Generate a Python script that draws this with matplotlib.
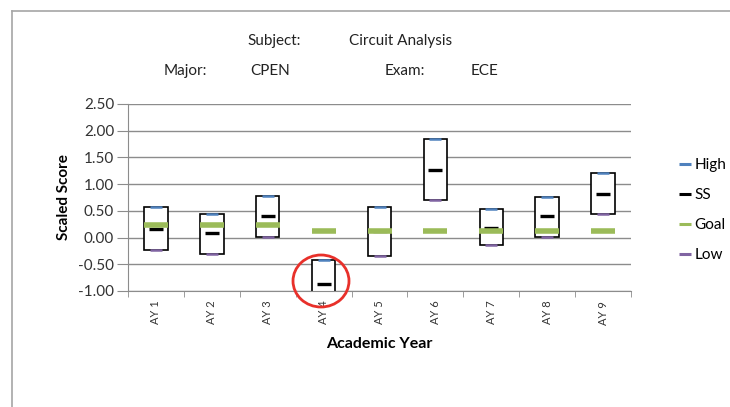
import matplotlib
matplotlib.use("Agg")
import matplotlib.pyplot as plt
from matplotlib.lines import Line2D
from matplotlib.patches import Ellipse
import numpy as np

plt.rcParams['font.family'] = ['Lato', 'DejaVu Sans']

categories = ["AY 1", "AY 2", "AY 3", "AY 4", "AY 5", "AY 6", "AY 7", "AY 8", "AY 9"]
high = [0.58, 0.45, 0.78, -0.42, 0.57, 1.84, 0.53, 0.76, 1.21]
low = [-0.23, -0.31, 0.02, -1.10, -0.34, 0.70, -0.14, 0.02, 0.45]
ss = [0.165, 0.085, 0.40, -0.86, 0.12, 1.26, 0.185, 0.40, 0.82]
goal = [0.235, 0.235, 0.235, 0.12, 0.12, 0.12, 0.12, 0.12, 0.12]
yticks = [-1.0, -0.5, 0.0, 0.5, 1.0, 1.5, 2.0, 2.5]

W, H = 730, 407
fig = plt.figure(figsize=(W / 100, H / 100), dpi=100)
ax = fig.add_axes([128 / W, 1 - 291 / H, (631 - 128) / W, (291 - 104) / H])

x = np.arange(len(categories))
grid_c = '#8c8c8c'
for yv in yticks:
    ax.axhline(yv, color=grid_c, lw=1.0, zorder=1)

ax.bar(x, np.array(high) - np.array(low), bottom=low, width=0.42,
       facecolor='white', edgecolor='black', linewidth=1.2, zorder=2)

ax.plot(x, high, linestyle='none', marker='_', markersize=8.5, mew=1.8, color='#4F81BD', zorder=4)
ax.plot(x, low, linestyle='none', marker='_', markersize=8.5, mew=1.8, color='#8064A2', zorder=4)
ax.plot(x, ss, linestyle='none', marker='_', markersize=9.5, mew=2.4, color='black', zorder=5)
ax.plot(x, goal, linestyle='none', marker='_', markersize=17.5, mew=4, color='#9BBB59', zorder=6)

ax.set_xlim(-0.5, len(categories) - 0.5)
ax.set_ylim(-1.0, 2.5)
ax.set_yticks(yticks)
ax.set_yticklabels([f"{v:.2f}" for v in yticks], fontsize=11, color='#333333')
ax.set_xticks(x)
ax.set_xticklabels(categories, rotation=90, fontsize=8, color='#333333')
ax.set_xticks(np.arange(-0.5, len(categories), 1.0), minor=True)
ax.tick_params(axis='x', which='major', length=0, pad=7)
ax.tick_params(axis='x', which='minor', length=4, color=grid_c)
ax.tick_params(axis='y', length=8, color=grid_c, pad=2)
for s in ['top', 'right']:
    ax.spines[s].set_visible(False)
ax.spines['left'].set_color(grid_c)
ax.spines['bottom'].set_color(grid_c)

ax.set_ylabel("Scaled Score", fontsize=11, fontweight='bold', labelpad=5)
ax.set_xlabel("Academic Year", fontsize=11.5, fontweight='bold', labelpad=9)

# Header texts
def ftxt(px, py, s, **kw):
    fig.text(px / W, 1 - py / H, s, fontsize=11, va='center', ha='left', color='#222222', **kw)

ftxt(247, 41, "Subject:")
ftxt(349, 41, "Circuit Analysis")
ftxt(164, 71, "Major:")
ftxt(250, 71, "CPEN")
ftxt(385, 71, "Exam:")
ftxt(471, 71, "ECE")

# Legend
handles = [
    Line2D([], [], linestyle='none', marker='_', markersize=8, mew=2.2, color='#4F81BD'),
    Line2D([], [], linestyle='none', marker='_', markersize=8, mew=2.2, color='black'),
    Line2D([], [], linestyle='none', marker='_', markersize=8, mew=2.2, color='#9BBB59'),
    Line2D([], [], linestyle='none', marker='_', markersize=8, mew=2.2, color='#8064A2'),
]
fig.legend(handles, ["High", "SS", "Goal", "Low"], loc='center left',
           bbox_to_anchor=(667 / W, 1 - 210 / H), frameon=False, fontsize=11,
           handlelength=0.6, handletextpad=0.3, labelspacing=1.05)

# Outer border (top and left)
fig.add_artist(Line2D([12 / W, 1.0], [1 - 11 / H, 1 - 11 / H], color='#a6a6a6', lw=1.2))
fig.add_artist(Line2D([12 / W, 12 / W], [0.0, 1 - 11 / H], color='#a6a6a6', lw=1.2))

# Red circle annotation
fig.add_artist(Ellipse((321 / W, 1 - 281 / H), 56 / W, 52 / H, fill=False,
                       edgecolor='#e8302a', lw=2))

fig.savefig("out.png", dpi=100)
